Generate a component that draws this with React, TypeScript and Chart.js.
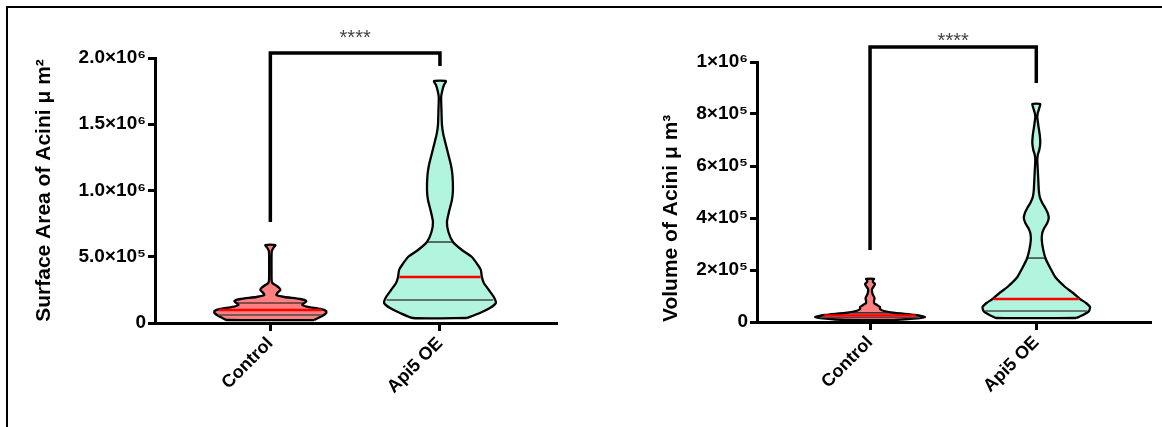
import React, { useEffect, useRef } from "react";
import { Chart, registerables } from "chart.js";

Chart.register(...registerables);
Chart.defaults.font.family = '"Liberation Sans", Arial, sans-serif';

// ---------- data ----------
const categories = ["Control", "Api5 OE"];
const sigLabel = "****";

// Panel 1: surface area
const areaTitle = "Surface Area of Acini \u03BC m\u00B2";
const areaTickValues = [0, 500000, 1000000, 1500000, 2000000];
const areaTickLabels = ["0", "5.0\u00D710\u2075", "1.0\u00D710\u2076", "1.5\u00D710\u2076", "2.0\u00D710\u2076"];

const areaControlLevels = [22600, 37700, 52800, 75500, 90600, 105700, 120800, 135800, 150900, 166000, 181100, 196200, 211300, 226400, 249000, 264100, 286700, 301900, 324500, 400000, 505600, 543400, 566000, 588700];
const areaControlDensity = [44, 48, 52, 56, 56, 50, 38, 32, 34, 36, 30, 14, 6, 7, 10, 9, 5, 2, 1.3, 1.2, 1.2, 1.5, 3, 5];
const areaControlQuartiles = [60400, 98000, 150900];

const areaApiLevels = [37700, 75500, 113200, 150900, 196200, 249100, 301900, 347200, 400000, 437700, 498100, 550900, 611300, 686800, 762200, 837700, 928300, 1003800, 1117000, 1192400, 1267900, 1343400, 1418800, 1494300, 1607500, 1705600, 1758500, 1796200, 1826400];
const areaApiDensity = [27, 40, 50, 56, 54, 49, 44, 42, 41, 38, 32, 22, 13, 8.5, 7, 9, 12, 13, 12.5, 11, 8.5, 6, 3.5, 2, 1.5, 1.2, 2.5, 4, 6];
const areaApiQuartiles = [173600, 347200, 611300];

const areaBracketY = [762000, 2038000, 2038000, 1940000];
const areaStarY = 2150000;

// Panel 2: volume
const volTitle = "Volume of Acini \u03BC m\u00B3";
const volTickValues = [0, 200000, 400000, 600000, 800000, 1000000];
const volTickLabels = ["0", "2\u00D710\u2075", "4\u00D710\u2075", "6\u00D710\u2075", "8\u00D710\u2075", "1\u00D710\u2076"];

const volControlLevels = [7700, 15400, 19200, 26900, 34600, 42300, 50000, 57700, 65400, 73100, 80800, 92300, 103800, 115400, 126900, 138500, 146200, 153800, 161500, 165400];
const volControlDensity = [25, 50, 55, 45, 25, 14, 10, 10, 7, 4, 4, 4.5, 3, 2, 2, 4, 5, 3, 3, 4];
const volControlQuartiles = [17000, 25000, 35000];

const volApiLevels = [15400, 26900, 42300, 57700, 73100, 88500, 111500, 134600, 173100, 207700, 242300, 276900, 315400, 342300, 361500, 380800, 400000, 419200, 438400, 457700, 480800, 507700, 546100, 584600, 623100, 642300, 661500, 688400, 719200, 757700, 788400, 803800, 823000, 838400];
const volApiDensity = [40, 47, 53, 54, 50, 44, 37, 29, 19, 14, 9.5, 7, 5.5, 6, 8, 11, 12.5, 11.5, 9, 6, 3.5, 2.5, 2, 1.5, 1, 1.5, 3, 4, 3.5, 2, 1, 1.5, 3, 4];
const volApiQuartiles = [42300, 88500, 246000];

const volBracketY = [276900, 1057700, 1057700, 919200];
const volStarY = 1080000;

// ---------- styles ----------
const FILLS = ["#FF8080", "#B2F5DF"];
const FONT = '"Liberation Sans", Arial, sans-serif';

type Violin = { levels: number[]; density: number[]; quartiles: number[] };

function interp(levels: number[], dens: number[], v: number) {
  if (v <= levels[0]) return dens[0];
  for (let i = 1; i < levels.length; i++) {
    if (v <= levels[i]) {
      const t = (v - levels[i - 1]) / (levels[i] - levels[i - 1]);
      return dens[i - 1] + t * (dens[i] - dens[i - 1]);
    }
  }
  return dens[dens.length - 1];
}

function buildDatasets(violins: Violin[], widthScale: number, bracketY: number[]) {
  const ds: any[] = [];
  violins.forEach((v, i) => {
    const right = v.levels.map((y, k) => ({ x: i + v.density[k] * widthScale, y }));
    const left = v.levels.map((y, k) => ({ x: i - v.density[k] * widthScale, y })).reverse();
    const pts = [...right, ...left, right[0]];
    ds.push({
      data: pts,
      showLine: true,
      fill: "shape",
      backgroundColor: FILLS[i],
      borderColor: "#000",
      borderWidth: 2.3,
      borderJoinStyle: "round",
      tension: 0.18,
      pointRadius: 0,
      order: 3,
    });
    const qStyles = [
      { color: "#4a4a4a", width: 1.3 },
      { color: "#FF0000", width: 2.5 },
      { color: "#111", width: 1.2 },
    ];
    v.quartiles.forEach((q, k) => {
      const w = interp(v.levels, v.density, q) * widthScale * 0.97;
      ds.push({
        data: [
          { x: i - w, y: q },
          { x: i + w, y: q },
        ],
        showLine: true,
        fill: false,
        borderColor: qStyles[k].color,
        borderWidth: qStyles[k].width,
        pointRadius: 0,
        tension: 0,
        order: 2,
      });
    });
  });
  ds.push({
    data: [
      { x: 0, y: bracketY[0] },
      { x: 0, y: bracketY[1] },
      { x: 1, y: bracketY[2] },
      { x: 1, y: bracketY[3] },
    ],
    showLine: true,
    fill: false,
    borderColor: "#000",
    borderWidth: 3.5,
    borderCapStyle: "butt",
    borderJoinStyle: "miter",
    pointRadius: 0,
    tension: 0,
    clip: false,
    order: 1,
  });
  return ds;
}

type Panel = {
  title: string;
  tickValues: number[];
  tickLabels: string[];
  violins: Violin[];
  bracketY: number[];
  starY: number;
  widthScale: number;
  padTop: number;
  padRight: number;
  yWidth: number;
  xHeight: number;
  titlePad: number;
  titleSize: number;
  titleAlign: string;
};

function makeConfig(p: Panel): any {
  const starPlugin = {
    id: "stars",
    afterDatasetsDraw(chart: any) {
      const { ctx, scales } = chart;
      ctx.save();
      ctx.font = `20px ${FONT}`;
      ctx.fillStyle = "#444";
      ctx.textAlign = "center";
      ctx.textBaseline = "middle";
      ctx.fillText(sigLabel, scales.x.getPixelForValue(0.5), scales.y.getPixelForValue(p.starY));
      ctx.restore();
    },
  };
  return {
    type: "scatter",
    data: { datasets: buildDatasets(p.violins, p.widthScale, p.bracketY) },
    plugins: [starPlugin],
    options: {
      animation: false,
      responsive: false,
      events: [],
      layout: { padding: { left: 0, top: p.padTop, right: p.padRight, bottom: 0 } },
      plugins: { legend: { display: false }, tooltip: { enabled: false } },
      scales: {
        x: {
          type: "linear",
          min: -0.68,
          max: 1.69,
          afterBuildTicks: (s: any) => {
            s.ticks = categories.map((_, i) => ({ value: i }));
          },
          afterFit: (s: any) => {
            s.height = p.xHeight;
          },
          border: { color: "#000", width: 3 },
          grid: { drawOnChartArea: false, drawTicks: true, tickLength: 8, tickWidth: 3, tickColor: "#000" },
          ticks: {
            autoSkip: false,
            minRotation: 45,
            maxRotation: 45,
            padding: 2,
            color: "#000",
            font: { size: 18, weight: "bold", family: FONT },
            callback: (_v: any, i: number) => categories[i],
          },
        },
        y: {
          type: "linear",
          min: p.tickValues[0],
          max: p.tickValues[p.tickValues.length - 1],
          afterBuildTicks: (s: any) => {
            s.ticks = p.tickValues.map((v) => ({ value: v }));
          },
          afterFit: (s: any) => {
            s.width = p.yWidth;
          },
          border: { color: "#000", width: 3 },
          grid: { drawOnChartArea: false, drawTicks: true, tickLength: 7, tickWidth: 3, tickColor: "#000" },
          ticks: {
            padding: 2,
            color: "#000",
            font: { size: 19, weight: "bold", family: FONT },
            callback: (_v: any, i: number) => p.tickLabels[i],
          },
          title: {
            display: true,
            text: p.title,
            align: p.titleAlign,
            color: "#000",
            font: { size: p.titleSize, weight: "bold", family: FONT },
            padding: { top: p.titlePad, bottom: 0 },
          },
        },
      },
    },
  };
}

function ChartCanvas({ panel, left, width }: { panel: Panel; left: number; width: number }) {
  const ref = useRef<HTMLCanvasElement | null>(null);
  useEffect(() => {
    if (!ref.current) return;
    const chart = new Chart(ref.current, makeConfig(panel));
    return () => chart.destroy();
  }, []);
  return (
    <canvas
      ref={ref}
      width={width}
      height={427}
      style={{ position: "absolute", left, top: 0, width, height: 427 }}
    />
  );
}

const areaPanel: Panel = {
  title: areaTitle,
  tickValues: areaTickValues,
  tickLabels: areaTickLabels,
  violins: [
    { levels: areaControlLevels, density: areaControlDensity, quartiles: areaControlQuartiles },
    { levels: areaApiLevels, density: areaApiDensity, quartiles: areaApiQuartiles },
  ],
  bracketY: areaBracketY,
  starY: areaStarY,
  widthScale: 1 / 170,
  padTop: 58,
  padRight: 23,
  yWidth: 155,
  xHeight: 104,
  titlePad: 32,
  titleSize: 21,
  titleAlign: "center",
};

const volPanel: Panel = {
  title: volTitle,
  tickValues: volTickValues,
  tickLabels: volTickLabels,
  violins: [
    { levels: volControlLevels, density: volControlDensity, quartiles: volControlQuartiles },
    { levels: volApiLevels, density: volApiDensity, quartiles: volApiQuartiles },
  ],
  bracketY: volBracketY,
  starY: volStarY,
  widthScale: 1 / 167,
  padTop: 62,
  padRight: 11,
  yWidth: 177,
  xHeight: 105,
  titlePad: 79,
  titleSize: 21,
  titleAlign: "start",
};

export default function App() {
  return (
    <div
      style={{
        position: "fixed",
        left: 0,
        top: 0,
        width: 1162,
        height: 427,
        background: "#fff",
        overflow: "hidden",
      }}
    >
      <ChartCanvas panel={areaPanel} left={0} width={580} />
      <ChartCanvas panel={volPanel} left={580} width={582} />
      <div style={{ position: "absolute", left: 6, top: 6, width: 1156, height: 2, background: "#000" }} />
      <div style={{ position: "absolute", left: 6, top: 6, width: 2, height: 421, background: "#000" }} />
    </div>
  );
}
